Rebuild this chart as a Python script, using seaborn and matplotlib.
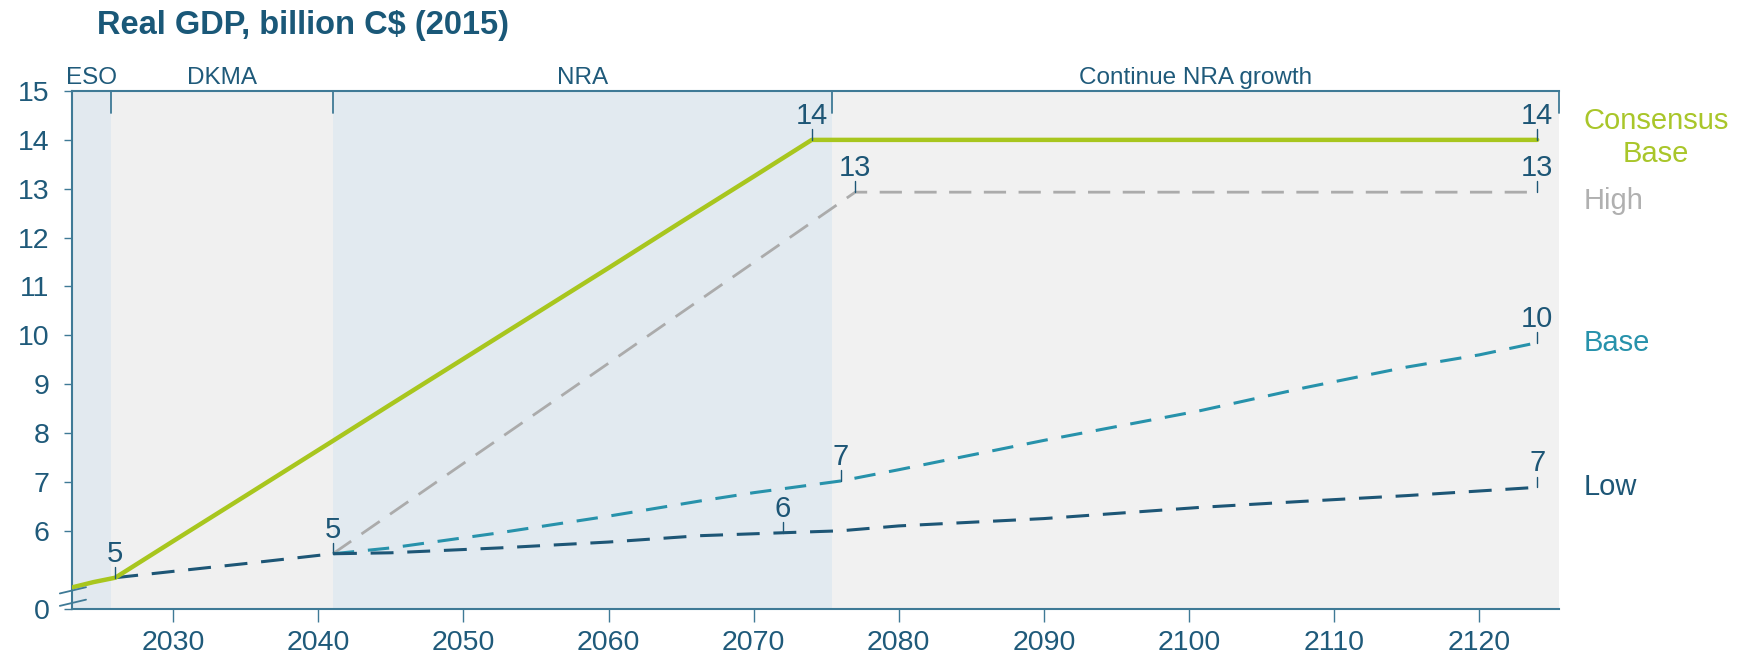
import numpy as np
import matplotlib
matplotlib.use("Agg")
import matplotlib.pyplot as plt
import seaborn as sns

# --- data ---
consensus_years = [2023, 2024.5, 2026, 2030, 2035, 2041, 2045, 2050, 2055, 2060, 2065, 2070, 2074, 2124]
consensus_vals = [4.84, 4.95, 5.04, 5.79, 6.72, 7.84, 8.59, 9.52, 10.45, 11.38, 12.32, 13.25, 14.0, 14.0]

high_years = [2041, 2050, 2060, 2070, 2077, 2124]
high_vals = [5.53, 7.38, 9.43, 11.49, 12.93, 12.93]

base_years = [2041, 2045, 2052.5, 2060, 2066.3, 2070, 2076, 2080, 2090, 2100.8, 2108, 2115, 2120, 2124]
base_vals = [5.53, 5.65, 5.96, 6.3, 6.61, 6.78, 7.02, 7.25, 7.85, 8.46, 8.93, 9.35, 9.6, 9.85]

low_years = [2026, 2030, 2035, 2041, 2045, 2052.5, 2060, 2066.3, 2072, 2076, 2080, 2090, 2100.8, 2107.7, 2115, 2124]
low_vals = [5.04, 5.17, 5.33, 5.53, 5.55, 5.65, 5.77, 5.9, 5.96, 6.0, 6.1, 6.25, 6.48, 6.6, 6.72, 6.89]

# phases: name, start, end
phase_names = ["ESO", "DKMA", "NRA", "Continue NRA growth"]
phase_edges = [2023, 2025.7, 2041, 2075.4, 2125.5]
phase_colors = ["#e2e9ef", "#f0f0f0", "#e2eaf0", "#f1f1f1"]

# value labels: (series, year, text)
point_labels = [
    ("low", 2026, "5"), ("low", 2041, "5"), ("low", 2072, "6"), ("low", 2124, "7"),
    ("base", 2076, "7"), ("base", 2124, "10"),
    ("high", 2077, "13"), ("high", 2124, "13"),
    ("consensus", 2074, "14"), ("consensus", 2124, "14"),
]

y_ticks = [4.4, 6, 7, 8, 9, 10, 11, 12, 13, 14, 15]
y_ticklabels = ["0", "6", "7", "8", "9", "10", "11", "12", "13", "14", "15"]
x_ticks = list(range(2030, 2121, 10))

# --- style ---
sns.set_theme(style="white")
plt.rcParams["font.family"] = ["Liberation Sans", "DejaVu Sans"]

navy = "#1d5676"
spine_col = "#3f7a96"
txt_col = "#1f5a7a"
c_cons = "#a8c61e"
c_high = "#ababab"
c_base = "#2792ab"
c_low = "#1d5676"

fig = plt.figure(figsize=(17.37, 6.61), dpi=100)
ax = fig.add_axes([0.0413, 0.0787, 0.8562, 0.7836])

# background phases
for i, name in enumerate(phase_names):
    ax.axvspan(phase_edges[i], phase_edges[i + 1], color=phase_colors[i], lw=0, zorder=0)
    mid = (phase_edges[i] + phase_edges[i + 1]) / 2
    ax.text(mid, 15.15, name, ha="center", va="baseline", fontsize=17.5, color=txt_col)

series = {
    "consensus": (consensus_years, consensus_vals),
    "high": (high_years, high_vals),
    "base": (base_years, base_vals),
    "low": (low_years, low_vals),
}

sns.lineplot(x=high_years, y=high_vals, ax=ax, color=c_high, linewidth=2.0,
             linestyle=(0, (8, 4.5)), estimator=None, sort=False, zorder=3)
sns.lineplot(x=base_years, y=base_vals, ax=ax, color=c_base, linewidth=2.2,
             linestyle=(0, (7, 4.5)), estimator=None, sort=False, zorder=3)
sns.lineplot(x=low_years, y=low_vals, ax=ax, color=c_low, linewidth=2.2,
             linestyle=(0, (7.5, 4.5)), estimator=None, sort=False, zorder=4)
sns.lineplot(x=consensus_years, y=consensus_vals, ax=ax, color=c_cons, linewidth=3.2,
             estimator=None, sort=False, zorder=5)

# point labels with small leader ticks
for key, yr, txt in point_labels:
    xs, ys = series[key]
    yv = float(np.interp(yr, xs, ys))
    ax.plot([yr, yr], [yv, yv + 0.22], color=navy, lw=1.0, zorder=6, clip_on=False)
    ax.text(yr, yv + 0.33, txt, ha="center", va="baseline", fontsize=21,
            color=navy, zorder=6)

# right-hand series labels
lx = 2127.2
ax.text(lx + 5.0, 14.05, "Consensus\nBase", ha="center", va="center", fontsize=21,
        color="#a9c62a", linespacing=1.25, clip_on=False)
ax.text(lx, high_vals[-1] - 0.18, "High", ha="left", va="center", fontsize=21,
        color="#b0b0b0")
ax.text(lx, base_vals[-1], "Base", ha="left", va="center", fontsize=21, color=c_base)
ax.text(lx, low_vals[-1], "Low", ha="left", va="center", fontsize=21, color=c_low)

# axes limits, ticks
ax.set_xlim(phase_edges[0], phase_edges[-1])
ax.set_ylim(4.4, 15)
ax.set_xticks(x_ticks)
ax.set_xticklabels([str(t) for t in x_ticks])
ax.set_yticks(y_ticks)
ax.set_yticklabels(y_ticklabels)
ax.set_xlabel("")
ax.set_ylabel("")
ax.tick_params(axis="x", direction="out", length=9, width=1, color=spine_col,
               labelsize=20.5, labelcolor=txt_col, pad=6, bottom=True)
ax.tick_params(axis="y", direction="out", length=6, width=1, color=spine_col,
               labelsize=20.5, labelcolor=txt_col, pad=10, left=True)

for side in ["left", "bottom", "top"]:
    ax.spines[side].set_visible(True)
    ax.spines[side].set_color(spine_col)
    ax.spines[side].set_linewidth(1.5)
ax.spines["right"].set_visible(False)

# phase divider ticks hanging from the top line
for edge in phase_edges[1:]:
    ax.plot([edge, edge], [15, 14.55], color=spine_col, lw=1.3, clip_on=False, zorder=6)

# axis break marks
for dy in (0.0, 0.024):
    ax.plot([-0.008, 0.0096], [0.006 + dy, 0.018 + dy], transform=ax.transAxes,
            color=spine_col, lw=1.3, clip_on=False, zorder=7)

fig.text(0.056, 0.962, "Real GDP, billion C$ (2015)", fontsize=23.5, fontweight="bold",
         color="#1a5878", ha="left", va="center")

fig.savefig("out.png", dpi=100)
plt.close(fig)
